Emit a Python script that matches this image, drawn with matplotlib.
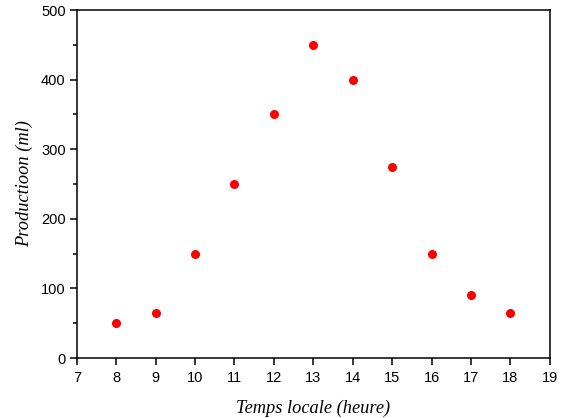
import matplotlib
matplotlib.use("Agg")
import matplotlib.pyplot as plt
from matplotlib.ticker import MultipleLocator

# data
hours = [8, 9, 10, 11, 12, 13, 14, 15, 16, 17, 18]
production = [50, 65, 150, 250, 350, 450, 400, 275, 150, 90, 65]

fig = plt.figure(figsize=(5.65, 4.18), dpi=100)
ax = fig.add_axes([0.136, 0.1435, 0.837, 0.8325])

ax.plot(hours, production, linestyle="none", marker="o", markersize=5.5,
        color="#ff0000", markeredgecolor="#ff0000")

ax.set_xlim(7, 19)
ax.set_ylim(0, 500)
ax.xaxis.set_major_locator(MultipleLocator(1))
ax.yaxis.set_major_locator(MultipleLocator(100))
ax.yaxis.set_minor_locator(MultipleLocator(50))

for s in ax.spines.values():
    s.set_linewidth(1.1)

ax.tick_params(axis="x", which="major", direction="out", length=5, width=1.1,
               labelsize=10.5, pad=4)
ax.tick_params(axis="y", which="major", direction="out", length=5, width=1.1,
               labelsize=10.5, pad=3)
ax.tick_params(which="minor", direction="out", length=3, width=1.1)
for lab in ax.get_xticklabels() + ax.get_yticklabels():
    lab.set_fontfamily("Liberation Sans")

ax.set_xlabel("Temps locale (heure)", family="Liberation Serif", style="italic",
              fontsize=13.2, labelpad=11)
ax.set_ylabel("Productioon (ml)", family="Liberation Serif", style="italic",
              fontsize=13.2, labelpad=6)

fig.savefig("out.png", dpi=100)
